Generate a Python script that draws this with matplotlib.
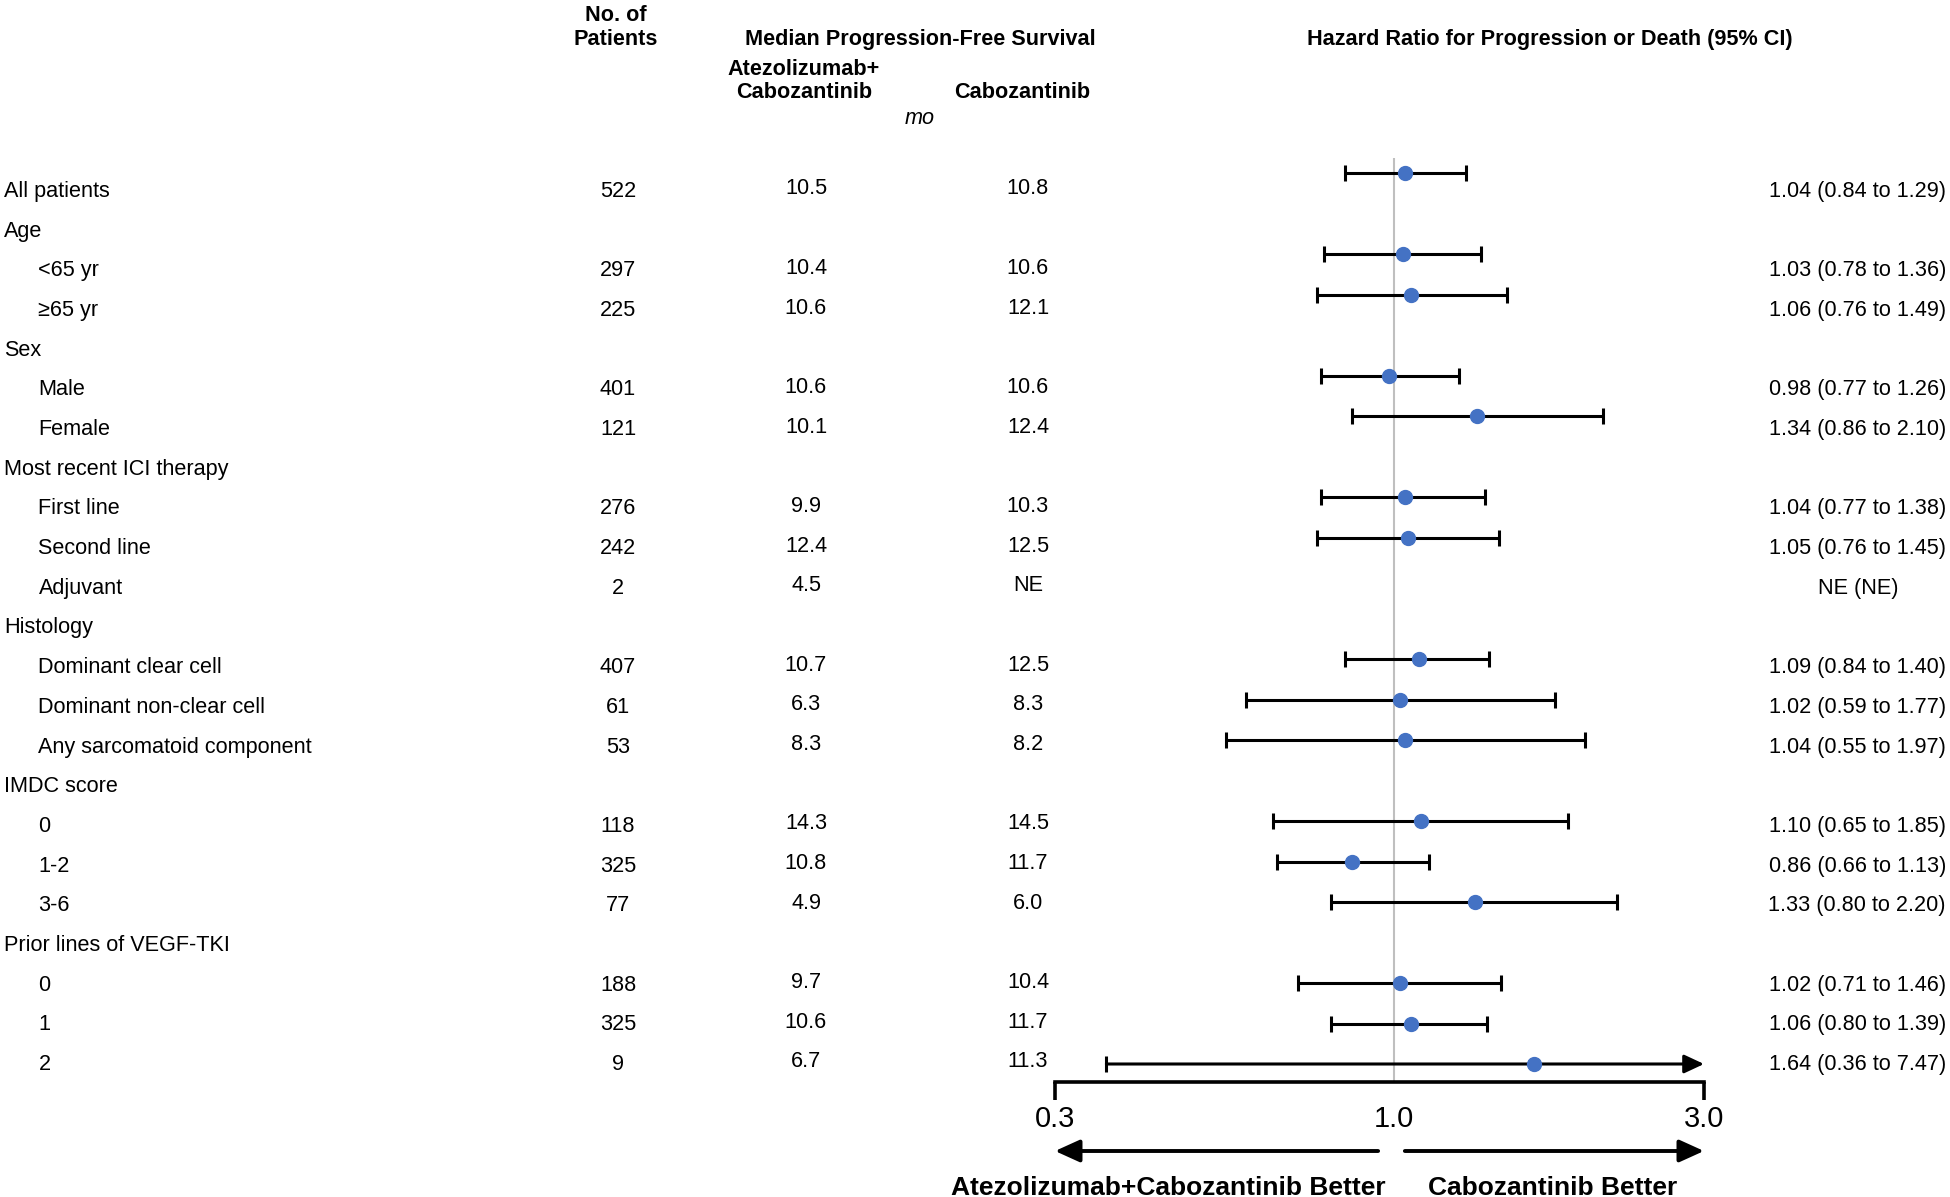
import matplotlib
matplotlib.use("Agg")
import matplotlib.pyplot as plt
from matplotlib.ticker import NullLocator, FixedLocator, FixedFormatter

plt.rcParams['font.family'] = ['Liberation Sans', 'DejaVu Sans']

# ---------------- data ----------------
labels = ["All patients", "Age", "<65 yr", "≥65 yr", "Sex", "Male", "Female",
          "Most recent ICI therapy", "First line", "Second line", "Adjuvant",
          "Histology", "Dominant clear cell", "Dominant non-clear cell",
          "Any sarcomatoid component", "IMDC score", "0", "1-2", "3-6",
          "Prior lines of VEGF-TKI", "0", "1", "2"]
indent = [0, 0, 1, 1, 0, 1, 1, 0, 1, 1, 1, 0, 1, 1, 1, 0, 1, 1, 1, 0, 1, 1, 1]
n_patients = ["522", "", "297", "225", "", "401", "121", "", "276", "242", "2",
              "", "407", "61", "53", "", "118", "325", "77", "", "188", "325", "9"]
pfs_atezo = ["10.5", "", "10.4", "10.6", "", "10.6", "10.1", "", "9.9", "12.4", "4.5",
             "", "10.7", "6.3", "8.3", "", "14.3", "10.8", "4.9", "", "9.7", "10.6", "6.7"]
pfs_cabo = ["10.8", "", "10.6", "12.1", "", "10.6", "12.4", "", "10.3", "12.5", "NE",
            "", "12.5", "8.3", "8.2", "", "14.5", "11.7", "6.0", "", "10.4", "11.7", "11.3"]
hr = [1.04, None, 1.03, 1.06, None, 0.98, 1.34, None, 1.04, 1.05, None,
      None, 1.09, 1.02, 1.04, None, 1.10, 0.86, 1.33, None, 1.02, 1.06, 1.64]
ci_lo = [0.84, None, 0.78, 0.76, None, 0.77, 0.86, None, 0.77, 0.76, None,
         None, 0.84, 0.59, 0.55, None, 0.65, 0.66, 0.80, None, 0.71, 0.80, 0.36]
ci_hi = [1.29, None, 1.36, 1.49, None, 1.26, 2.10, None, 1.38, 1.45, None,
         None, 1.40, 1.77, 1.97, None, 1.85, 1.13, 2.20, None, 1.46, 1.39, 7.47]
na_text = {10: "NE (NE)"}
x_ticks = [0.3, 1.0, 3.0]
x_ticklabels = ["0.3", "1.0", "3.0"]

# ---------------- layout ----------------
W, H = 1950, 1197
fig = plt.figure(figsize=(W / 100, H / 100), dpi=100)
fig.patch.set_facecolor("white")


def fx(px):
    return px / W


def fy(py):
    return 1 - py / H


FS = 15.6
BLUE = "#4472C4"
DY = 2.5  # small text offset

# headers
fig.text(fx(616), fy(13 + DY), "No. of", ha="center", va="center", fontsize=FS, fontweight="bold")
fig.text(fx(616), fy(37 + DY), "Patients", ha="center", va="center", fontsize=FS, fontweight="bold")
fig.text(fx(920), fy(37 + DY), "Median Progression-Free Survival", ha="center", va="center",
         fontsize=FS, fontweight="bold")
fig.text(fx(804), fy(67 + DY), "Atezolizumab+", ha="center", va="center", fontsize=FS, fontweight="bold")
fig.text(fx(804), fy(90 + DY), "Cabozantinib", ha="center", va="center", fontsize=FS, fontweight="bold")
fig.text(fx(1022), fy(90 + DY), "Cabozantinib", ha="center", va="center", fontsize=FS, fontweight="bold")
fig.text(fx(920), fy(116 + DY), "mo", ha="center", va="center", fontsize=FS, fontstyle="italic")
fig.text(fx(1550), fy(37 + DY), "Hazard Ratio for Progression or Death (95% CI)", ha="center",
         va="center", fontsize=FS, fontweight="bold")

# table rows
row0, rstep = 189.0 + DY, 39.68
for i, lab in enumerate(labels):
    y = row0 + rstep * i
    fig.text(fx(38.5 if indent[i] else 4), fy(y), lab, ha="left", va="center", fontsize=FS)
    if n_patients[i]:
        fig.text(fx(618), fy(y), n_patients[i], ha="center", va="center", fontsize=FS)
    if pfs_atezo[i]:
        fig.text(fx(806), fy(y - 2.5), pfs_atezo[i], ha="center", va="center", fontsize=FS)
    if pfs_cabo[i]:
        fig.text(fx(1028), fy(y - 2.5), pfs_cabo[i], ha="center", va="center", fontsize=FS)
    if hr[i] is not None:
        fig.text(fx(1946), fy(y), f"{hr[i]:.2f} ({ci_lo[i]:.2f} to {ci_hi[i]:.2f})",
                 ha="right", va="center", fontsize=FS)
    elif i in na_text:
        fig.text(fx(1858), fy(y), na_text[i], ha="center", va="center", fontsize=FS)

# forest axes
ax_l, ax_r, ax_t, ax_b = 1055, 1704, 158, 1082
ax = fig.add_axes([fx(ax_l), fy(ax_b), (ax_r - ax_l) / W, (ax_b - ax_t) / H])
ax.set_xscale("log")
xmin, xmax = 0.3, 3.0
ax.set_xlim(xmin, xmax)
f0, fstep = 173.0, 40.5
ax.set_ylim((ax_b - f0) / fstep, (ax_t - f0) / fstep)
ax.patch.set_alpha(0)

ax.axvline(1.0, color="#BFBFBF", lw=1.5, zorder=1)

for i in range(len(labels)):
    if hr[i] is None:
        continue
    lo, hi, h = ci_lo[i], ci_hi[i], hr[i]
    if hi <= xmax:
        ax.errorbar([h], [i], xerr=[[h - lo], [hi - h]], fmt="o", color=BLUE,
                    markersize=10, ecolor="black", elinewidth=2.2, capsize=5.5,
                    capthick=2.2, zorder=3)
    else:
        ax.annotate("", xy=(xmax, i), xytext=(lo, i),
                    arrowprops=dict(arrowstyle="-|>,head_length=0.75,head_width=0.35",
                                    color="black", lw=2.2, shrinkA=0, shrinkB=0,
                                    mutation_scale=16), zorder=2, annotation_clip=False)
        ax.plot([lo], [i], marker="|", color="black", markersize=11, mew=2.2, zorder=2)
        ax.plot([h], [i], "o", color=BLUE, markersize=10, zorder=3)

for s in ["left", "right", "top"]:
    ax.spines[s].set_visible(False)
ax.spines["bottom"].set_linewidth(2.6)
ax.yaxis.set_visible(False)
ax.xaxis.set_minor_locator(NullLocator())
ax.xaxis.set_major_locator(FixedLocator(x_ticks))
ax.xaxis.set_major_formatter(FixedFormatter(x_ticklabels))
ax.tick_params(axis="x", direction="out", length=13, width=2.6, labelsize=21, pad=3.5)
ax.xaxis.get_major_ticks()[1].tick1line.set_visible(False)

# direction arrows
arrow_y = fy(1151)
for start, end in [(0.944, xmin), (1.038, xmax)]:
    ax.annotate("", xy=(end, arrow_y), xytext=(start, arrow_y),
                xycoords=("data", "figure fraction"), textcoords=("data", "figure fraction"),
                arrowprops=dict(arrowstyle="-|>,head_length=0.75,head_width=0.34", color="black",
                                lw=2.8, shrinkA=0, shrinkB=0, mutation_scale=20),
                annotation_clip=False)

fig.text(fx(1386), fy(1188), "Atezolizumab+Cabozantinib Better", ha="right", va="center",
         fontsize=19, fontweight="bold")
fig.text(fx(1553), fy(1188), "Cabozantinib Better", ha="center", va="center",
         fontsize=19, fontweight="bold")

fig.savefig("out.png", dpi=100, facecolor="white")
